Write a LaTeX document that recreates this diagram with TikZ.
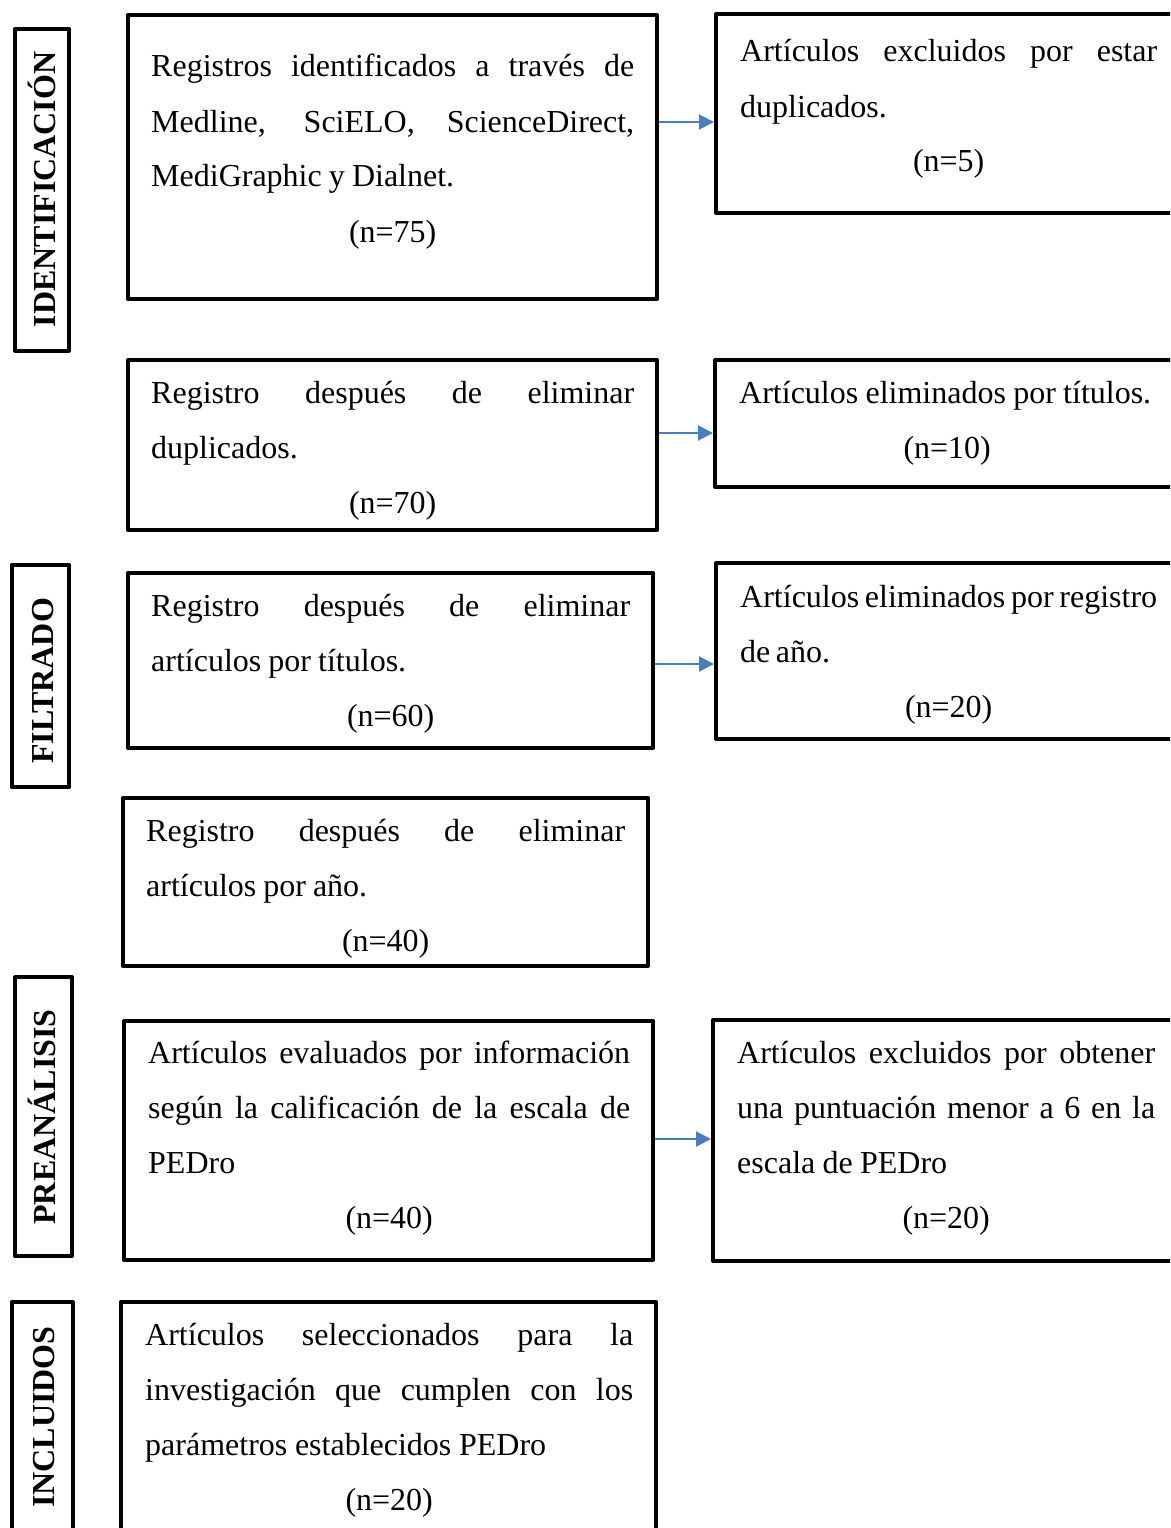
\documentclass[tikz,border=0pt]{standalone}
\usepackage{fontspec}
\setmainfont{Liberation Serif}
\usetikzlibrary{arrows.meta}
\definecolor{arrblue}{RGB}{74,126,187}
\hbadness=10000
\hfuzz=40pt
\newcommand{\jline}[2]{\makebox[#1pt][s]{\spaceskip=0.25em plus 1fil minus 0.12em\relax #2}\par}
\newcommand{\ctrline}[2]{\makebox[#1pt][c]{#2}\par}
\begin{document}
\begin{tikzpicture}[x=1pt,y=-1pt,
  box/.style={draw=black, line width=4pt, line join=round, inner sep=0pt},
  txt/.style={inner sep=0pt, anchor=base west, text width=500pt, font=\fontsize{32}{55}\selectfont},
  lab/.style={inner sep=0pt, anchor=base, rotate=90, font=\fontsize{32}{38}\selectfont\bfseries},
  arr/.style={draw=arrblue, line width=2pt, -{Triangle[length=15pt,width=15pt]}}]
\useasboundingbox (0,0) rectangle (1170,1528);
\fill[white] (0,0) rectangle (1170,1528);
\clip (0,0) rectangle (1170,1528);

% side labels
\node[box, minimum width=54pt, minimum height=321.5pt] (l1) at (42,189.75) {};
\node[lab] (l1t) at (55,189.5) {IDENTIFICACIÓN};
\node[box, minimum width=57.5pt, minimum height=222pt] (l2) at (40.25,676) {};
\node[lab] (l2t) at (53,681) {FILTRADO};
\node[box, minimum width=57pt, minimum height=279pt] (l3) at (43.5,1116.5) {};
\node[lab] (l3t) at (55,1117) {PREANÁLISIS};
\node[box, minimum width=61pt, minimum height=258pt] (l4) at (42,1431) {};
\node[lab] (l4t) at (54,1417) {INCLUIDOS};

% main boxes
\node[box, minimum width=529pt, minimum height=284pt] (b1) at (392.5,157) {};
\node[box, minimum width=474pt, minimum height=199pt] (r1) at (953,113.5) {};
\node[box, minimum width=529pt, minimum height=170pt] (b2) at (392.5,445) {};
\node[box, minimum width=475pt, minimum height=127pt] (r2) at (952.5,423.5) {};
\node[box, minimum width=525pt, minimum height=175pt] (b3) at (390.5,660.5) {};
\node[box, minimum width=474pt, minimum height=176pt] (r3) at (953,651) {};
\node[box, minimum width=525pt, minimum height=168pt] (b4) at (385.5,882) {};
\node[box, minimum width=529pt, minimum height=239pt] (b5) at (388.5,1140.5) {};
\node[box, minimum width=477pt, minimum height=241pt] (r5) at (951.5,1140.5) {};
\node[box, minimum width=535pt, minimum height=258pt] (b6) at (388.5,1431) {};

% texts
\node[txt] (t1) at (151,77) {\jline{483}{Registros identificados a través de}\jline{483}{Medline, SciELO, ScienceDirect,}\jline{303}{MediGraphic y Dialnet.}\ctrline{483}{(n=75)}};
\node[txt] (u1) at (740,62) {\jline{417}{Artículos excluidos por estar}duplicados.\par\ctrline{417}{(n=5)}};
\node[txt] (t2) at (151,403) {\jline{483}{Registro después de eliminar}duplicados.\par\ctrline{483}{(n=70)}};
\node[txt] (u2) at (739,403) {\jline{412}{Artículos eliminados por títulos.}\ctrline{416}{(n=10)}};
\node[txt] (t3) at (151,616) {\jline{479}{Registro después de eliminar}\jline{255}{artículos por títulos.}\ctrline{479}{(n=60)}};
\node[txt] (u3) at (740,607) {\jline{417}{Artículos eliminados por registro}\jline{90}{de año.}\ctrline{417}{(n=20)}};
\node[txt] (t4) at (146,841) {\jline{479}{Registro después de eliminar}\jline{221}{artículos por año.}\ctrline{479}{(n=40)}};
\node[txt] (t5) at (148,1063) {\jline{482}{Artículos evaluados por información}\jline{482}{según la calificación de la escala de}PEDro\par\ctrline{482}{(n=40)}};
\node[txt] (u5) at (737,1063) {\jline{418}{Artículos excluidos por obtener}\jline{418}{una puntuación menor a 6 en la}\jline{210}{escala de PEDro}\ctrline{418}{(n=20)}};
\node[txt] (t6) at (145,1345) {\jline{488}{Artículos seleccionados para la}\jline{488}{investigación que cumplen con los}\jline{401}{parámetros establecidos PEDro}\ctrline{488}{(n=20)}};

% arrows
\coordinate (ya) at (0,122);
\coordinate (yb) at (0,433);
\coordinate (yc) at (0,664);
\coordinate (yd) at (0,1139);
\draw[arr] (b1.east |- ya) -- (r1.west |- ya);
\draw[arr] (b2.east |- yb) -- (r2.west |- yb);
\draw[arr] (b3.east |- yc) -- (r3.west |- yc);
\draw[arr] (b5.east |- yd) -- (r5.west |- yd);
\end{tikzpicture}
\end{document}
